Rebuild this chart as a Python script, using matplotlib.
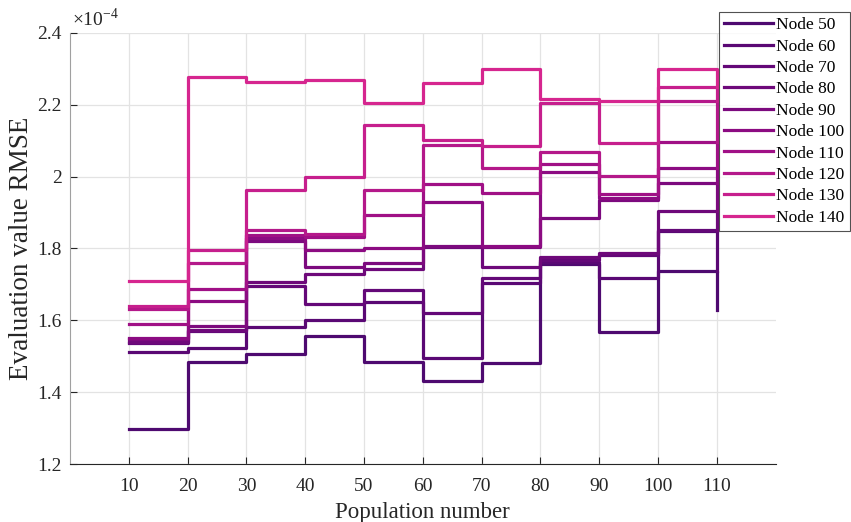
import matplotlib.pyplot as plt
import numpy as np

plt.rcParams['font.family'] = ['Liberation Serif', 'DejaVu Serif']
plt.rcParams['mathtext.fontset'] = 'custom'
plt.rcParams['mathtext.rm'] = 'Liberation Serif'

# population numbers (x of stairs)
population = [10, 20, 30, 40, 50, 60, 70, 80, 90, 100, 110]
labels = ['Node 50', 'Node 60', 'Node 70', 'Node 80', 'Node 90',
          'Node 100', 'Node 110', 'Node 120', 'Node 130', 'Node 140']

# RMSE values in units of 1e-4
node50 = [1.298, 1.485, 1.506, 1.555, 1.483, 1.432, 1.480, 1.756, 1.568, 1.738, 1.630]
node60 = [1.511, 1.524, 1.582, 1.601, 1.651, 1.494, 1.705, 1.762, 1.717, 1.848, 1.738]
node70 = [1.536, 1.570, 1.696, 1.646, 1.685, 1.621, 1.717, 1.768, 1.781, 1.852, 1.848]
node80 = [1.540, 1.573, 1.708, 1.729, 1.743, 1.803, 1.749, 1.776, 1.787, 1.905, 1.852]
node90 = [1.548, 1.585, 1.820, 1.749, 1.760, 1.808, 1.803, 1.886, 1.935, 1.982, 1.905]
node100 = [1.552, 1.654, 1.830, 1.796, 1.802, 1.929, 1.807, 2.012, 1.940, 2.023, 1.982]
node110 = [1.590, 1.686, 1.838, 1.831, 1.892, 1.980, 1.955, 2.035, 1.951, 2.096, 2.023]
node120 = [1.631, 1.761, 1.852, 1.840, 1.964, 2.088, 2.025, 2.068, 2.003, 2.212, 2.096]
node130 = [1.640, 1.797, 1.963, 1.998, 2.143, 2.102, 2.085, 2.205, 2.093, 2.250, 2.212]
node140 = [1.710, 2.277, 2.263, 2.269, 2.204, 2.260, 2.300, 2.215, 2.211, 2.300, 2.250]

series = [node50, node60, node70, node80, node90, node100, node110, node120, node130, node140]
colors = ['#4e0a70', '#5a0874', '#640878', '#6e097a', '#7c0a7e',
          '#8c0b82', '#a01086', '#b4188a', '#c61f8d', '#d6268f']

fig = plt.figure(figsize=(8.51, 5.22), dpi=100)
ax = fig.add_axes([0.0823, 0.1111, 0.8292, 0.8257])

for y, c, lab in zip(series, colors, labels):
    ax.step(population, y, where='post', color=c, linewidth=2.3, label=lab)

ax.set_xlim(0, 120)
ax.set_ylim(1.2, 2.4)
ax.set_xticks(population)
ax.set_yticks([1.2, 1.4, 1.6, 1.8, 2.0, 2.2, 2.4])
ax.set_yticklabels(['1.2', '1.4', '1.6', '1.8', '2', '2.2', '2.4'])
ax.grid(True, color='#e3e3e3', linewidth=0.9)
ax.set_axisbelow(True)
ax.tick_params(direction='in', length=5, labelsize=14, colors='#262626')
ax.tick_params(axis='x', pad=10)
ax.tick_params(axis='y', pad=6)
ax.spines['top'].set_visible(False)
ax.spines['right'].set_visible(False)
ax.spines['left'].set_color('#a0a0a0')
ax.spines['bottom'].set_color('#262626')
ax.set_xlabel('Population number', fontsize=16.5, color='#262626', labelpad=5)
ax.set_ylabel('Evaluation value RMSE', fontsize=19.5, color='#262626', labelpad=2)
ax.text(0.003, 1.006, r'$\times10^{-4}$', transform=ax.transAxes, fontsize=14,
        color='#262626', va='bottom', ha='left')

leg = fig.legend(loc='upper left', bbox_to_anchor=(719 / 851, 1 - 12 / 522),
                 fontsize=12.5, frameon=True, fancybox=False, handlelength=2.8,
                 handletextpad=0.2, labelspacing=0.3, borderpad=0.3, borderaxespad=0)
leg.get_frame().set_edgecolor('#262626')
leg.get_frame().set_linewidth(0.8)

fig.savefig('out.png', dpi=100)
